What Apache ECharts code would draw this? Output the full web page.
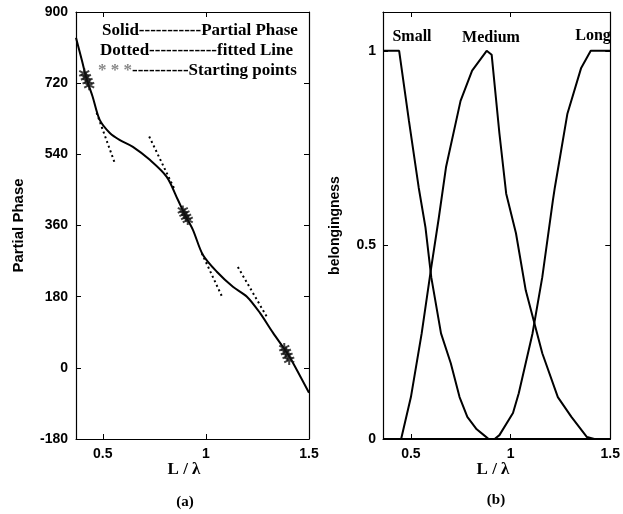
<!DOCTYPE html>
<html>
<head>
<meta charset="utf-8">
<script src="https://cdn.jsdelivr.net/npm/echarts@6/dist/echarts.min.js"></script>
<style>
    html, body { margin: 0; padding: 0; background: #fff; }
    #chart { width: 623px; height: 514px; }
</style>
</head>
<body>
<div id="chart"></div>
<script>
// (a) partial phase vs L/lambda
var phaseX = [0.37, 0.40, 0.42, 0.45, 0.485, 0.534, 0.583, 0.646, 0.728, 0.81, 0.864, 0.898, 0.937, 0.985, 1.053, 1.131, 1.199, 1.262, 1.325, 1.393, 1.422, 1.5];
var phaseY = [835, 775, 733, 687, 627, 594, 576, 559, 526, 483, 425, 387, 349, 286, 243, 205, 180, 139, 89, 38, 13, -63];

// fitted lines, one pair of end points each
var fitX = [[0.47, 0.56], [0.725, 0.845], [0.98, 1.08], [1.155, 1.30]];
var fitY = [[645, 515], [585, 455], [290, 178], [255, 125]];

// starting points (asterisk clusters)
var starX = [0.41, 0.418, 0.426, 0.434, 0.888, 0.896, 0.904, 0.912, 1.38, 1.388, 1.396, 1.404];
var starY = [745, 735, 725, 715, 398, 390, 382, 374, 50, 40, 30, 20];

var phaseTicks = [-180, 0, 180, 360, 540, 720, 900];
var lTicks = [0.5, 1, 1.5];

// (b) membership functions
var smallX = [0.36, 0.441, 0.49, 0.539, 0.573, 0.602, 0.651, 0.70, 0.744, 0.783, 0.83, 0.866, 0.89, 1.5];
var smallY = [1, 1, 0.82, 0.648, 0.545, 0.417, 0.272, 0.195, 0.108, 0.057, 0.025, 0.01, 0, 0];
var mediumX = [0.36, 0.451, 0.5, 0.554, 0.602, 0.64, 0.676, 0.749, 0.807, 0.88, 0.905, 0.944, 0.978, 1.027, 1.076, 1.159, 1.237, 1.305, 1.383, 1.42, 1.5];
var mediumY = [0, 0, 0.108, 0.272, 0.442, 0.57, 0.70, 0.871, 0.949, 1.0, 0.99, 0.787, 0.632, 0.53, 0.383, 0.221, 0.108, 0.057, 0.005, 0, 0];
var longX = [0.36, 0.92, 0.944, 1.012, 1.041, 1.11, 1.159, 1.212, 1.222, 1.285, 1.354, 1.402, 1.5];
var longY = [0, 0, 0.01, 0.067, 0.118, 0.272, 0.417, 0.614, 0.648, 0.838, 0.956, 1.0, 1.0];
var memberTicks = [0, 0.5, 1];

function zip(xs, ys) {
    var out = [];
    for (var i = 0; i < xs.length; i++) {
        out.push([xs[i], ys[i]]);
    }
    return out;
}

var sans = 'Liberation Sans, Arial, sans-serif';
var serif = 'Liberation Serif, Times New Roman, serif';
var lineCol = '#000';

function boxAxis(opt) {
    var base = {
        gridIndex: 0,
        type: 'value',
        axisLine: {show: true, onZero: false, lineStyle: {color: lineCol, width: 1.2}},
        axisTick: {show: true, inside: true, length: 5, lineStyle: {color: lineCol}},
        axisLabel: {show: false},
        splitLine: {show: false}
    };
    for (var k in opt) {
        base[k] = opt[k];
    }
    return base;
}

function ticks(values) {
    return {show: true, inside: true, length: 5, customValues: values, lineStyle: {color: lineCol}};
}

var tickLabel = {color: '#000', fontFamily: sans, fontWeight: 'bold', fontSize: 14, margin: 8};

var series = [{
    type: 'line',
    xAxisIndex: 0, yAxisIndex: 0,
    data: zip(phaseX, phaseY),
    smooth: 0.3,
    symbol: 'none',
    lineStyle: {color: '#000', width: 2},
    z: 3
}];
for (var f = 0; f < fitX.length; f++) {
    series.push({
        type: 'line',
        xAxisIndex: 0, yAxisIndex: 0,
        data: zip(fitX[f], fitY[f]),
        symbol: 'none',
        lineStyle: {color: '#000', width: 2, type: [2, 3]},
        z: 2
    });
}
series.push({
    type: 'scatter',
    xAxisIndex: 0, yAxisIndex: 0,
    data: zip(starX, starY),
    symbol: 'path://M5,0L5,10M0.67,2.5L9.33,7.5M0.67,7.5L9.33,2.5',
    symbolSize: 10,
    itemStyle: {color: 'none', borderColor: '#111', borderWidth: 2},
    z: 4
});
var members = [[smallX, smallY], [mediumX, mediumY], [longX, longY]];
for (var m = 0; m < members.length; m++) {
    series.push({
        type: 'line',
        xAxisIndex: 2, yAxisIndex: 2,
        data: zip(members[m][0], members[m][1]),
        symbol: 'none',
        lineStyle: {color: '#000', width: 2}
    });
}

var option = {
    backgroundColor: '#fff',
    animation: false,
    grid: [
        {left: 76, top: 12, width: 233, height: 427},
        {left: 383, top: 12, width: 234, height: 427}
    ],
    xAxis: [
        boxAxis({gridIndex: 0, position: 'bottom', min: 0.37, max: 1.5, axisTick: ticks(lTicks),
            axisLabel: Object.assign({show: true, customValues: lTicks}, tickLabel)}),
        boxAxis({gridIndex: 0, position: 'top', min: 0.37, max: 1.5, axisTick: ticks(lTicks)}),
        boxAxis({gridIndex: 1, position: 'bottom', min: 0.36, max: 1.5, axisTick: ticks(lTicks),
            axisLabel: Object.assign({show: true, customValues: lTicks}, tickLabel)}),
        boxAxis({gridIndex: 1, position: 'top', min: 0.36, max: 1.5, axisTick: ticks(lTicks)})
    ],
    yAxis: [
        boxAxis({gridIndex: 0, position: 'left', min: -180, max: 900, interval: 180, axisTick: ticks(phaseTicks),
            axisLabel: Object.assign({show: true, customValues: phaseTicks}, tickLabel),
            name: 'Partial Phase', nameLocation: 'middle', nameGap: 50,
            nameTextStyle: {color: '#000', fontFamily: sans, fontWeight: 'bold', fontSize: 15}}),
        boxAxis({gridIndex: 0, position: 'right', min: -180, max: 900, interval: 180, axisTick: ticks(phaseTicks)}),
        boxAxis({gridIndex: 1, position: 'left', min: 0, max: 1.1, axisTick: ticks(memberTicks),
            axisLabel: Object.assign({show: true, customValues: memberTicks}, tickLabel, {margin: 7}),
            name: 'belongingness', nameLocation: 'middle', nameGap: 41,
            nameTextStyle: {color: '#000', fontFamily: sans, fontWeight: 'bold', fontSize: 14}}),
        boxAxis({gridIndex: 1, position: 'right', min: 0, max: 1.1, axisTick: ticks(memberTicks)})
    ],
    series: series,
    graphic: [
        {type: 'text', left: 102, top: 22, style: {text: 'Solid-----------Partial Phase', fill: '#000', font: 'bold 17px ' + serif}},
        {type: 'text', left: 100, top: 42, style: {text: 'Dotted------------fitted Line', fill: '#000', font: 'bold 17px ' + serif}},
        {type: 'text', left: 98, top: 62, style: {
            text: '{g|* * *}----------Starting points',
            font: 'bold 17px ' + serif, fill: '#000',
            rich: {g: {fill: '#888', font: 'bold 17px ' + serif}}
        }},
        {type: 'text', x: 184, y: 470, style: {text: 'L / λ', fill: '#000', font: 'bold 17px ' + serif, align: 'center', verticalAlign: 'middle'}},
        {type: 'text', x: 185, y: 502, style: {text: '(a)', fill: '#000', font: 'bold 15px ' + serif, align: 'center', verticalAlign: 'middle'}},
        {type: 'text', x: 493, y: 470, style: {text: 'L / λ', fill: '#000', font: 'bold 17px ' + serif, align: 'center', verticalAlign: 'middle'}},
        {type: 'text', x: 496, y: 500, style: {text: '(b)', fill: '#000', font: 'bold 15px ' + serif, align: 'center', verticalAlign: 'middle'}},
        {type: 'text', x: 412, y: 37, style: {text: 'Small', fill: '#000', font: 'bold 16px ' + serif, align: 'center', verticalAlign: 'middle'}},
        {type: 'text', x: 491, y: 38, style: {text: 'Medium', fill: '#000', font: 'bold 16px ' + serif, align: 'center', verticalAlign: 'middle'}},
        {type: 'text', x: 593, y: 36, style: {text: 'Long', fill: '#000', font: 'bold 16px ' + serif, align: 'center', verticalAlign: 'middle'}}
    ]
};

var chart = echarts.init(document.getElementById('chart'));
chart.setOption(option);
</script>
</body>
</html>
